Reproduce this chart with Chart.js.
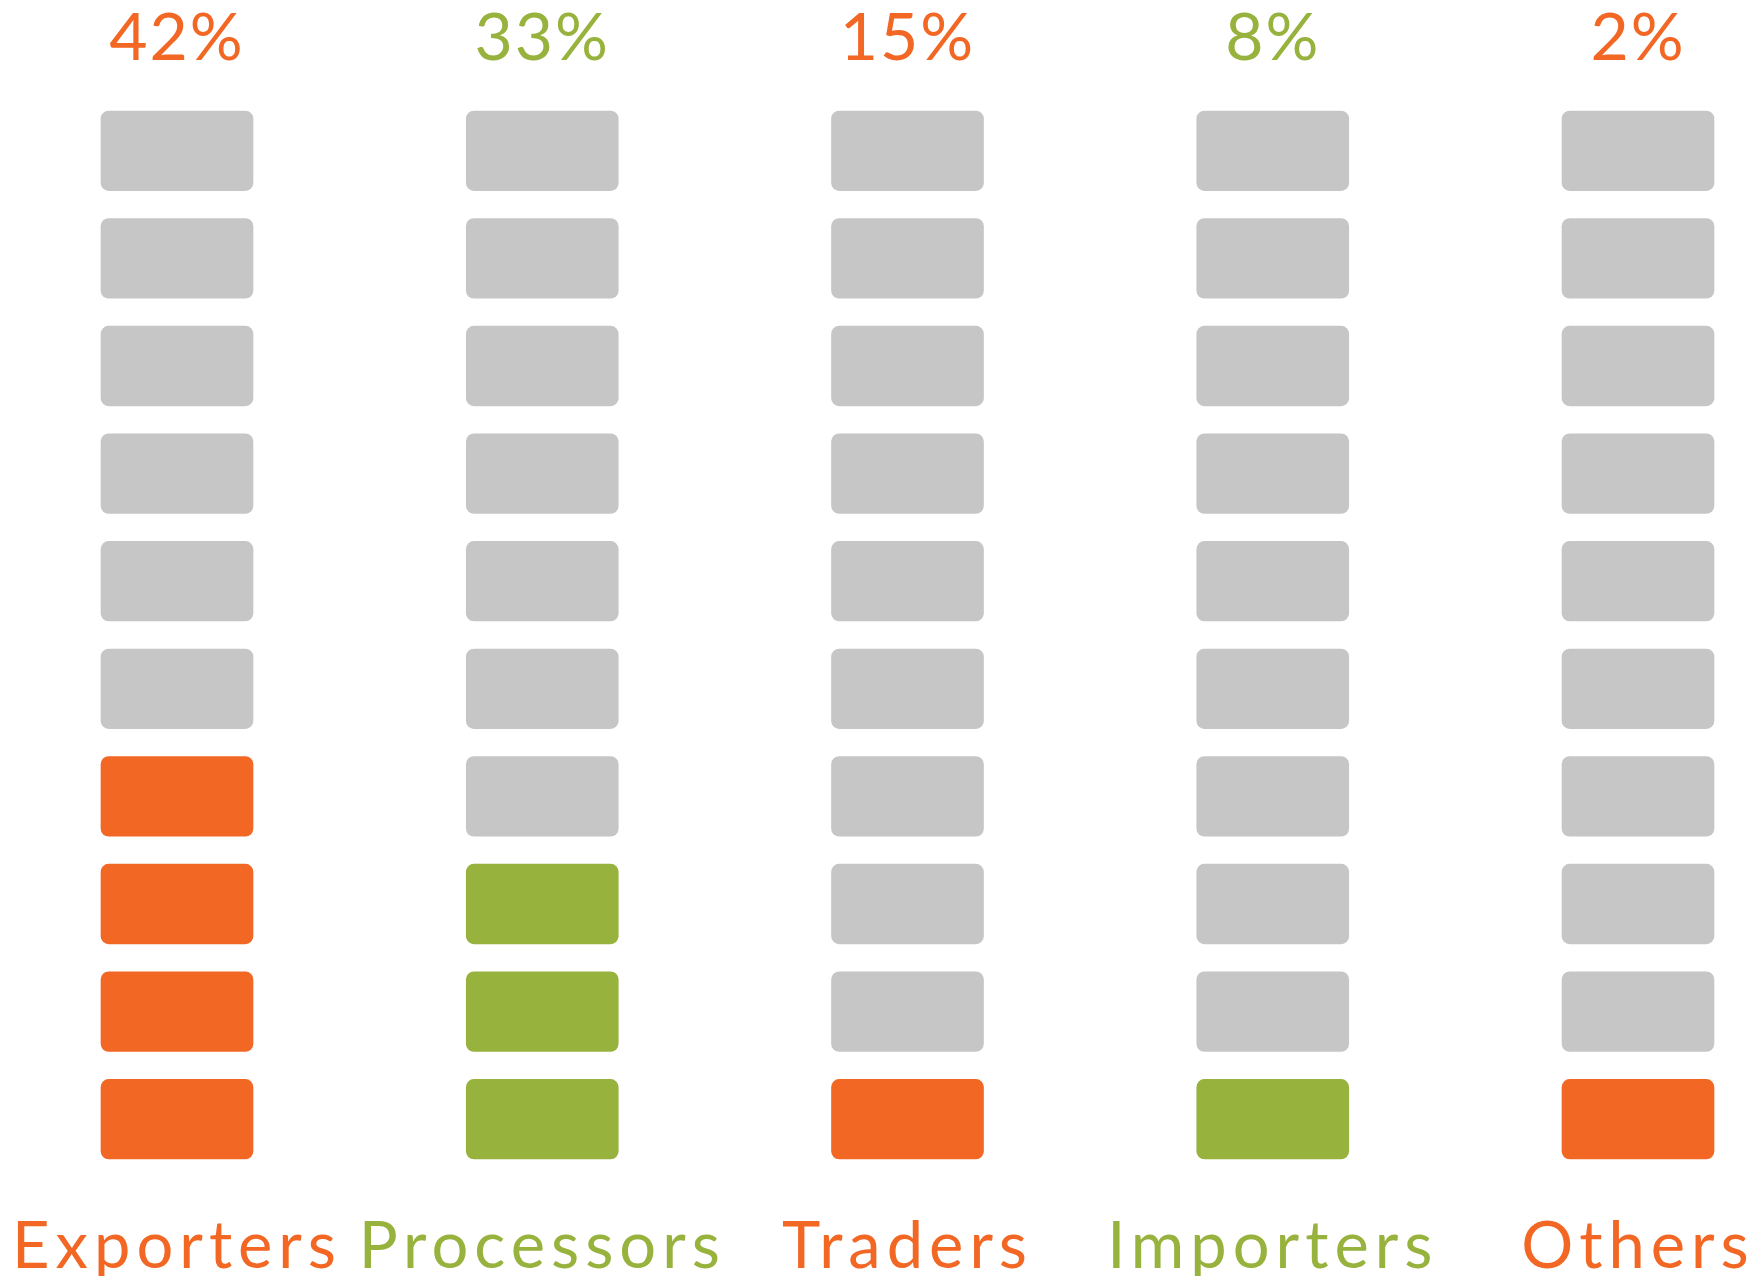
<!DOCTYPE html>
<html><head><meta charset="utf-8">
<script src="https://cdn.jsdelivr.net/npm/chart.js@4/dist/chart.umd.min.js"></script>
<style>html,body{margin:0;padding:0;background:#fff}#wrap{width:1758px;height:1276px;position:relative}</style>
</head><body><div id="wrap"><canvas id="c" width="1758" height="1276"></canvas></div>
<script>
const categories = ['Exporters', 'Processors', 'Traders', 'Importers', 'Others'];
const percentLabels = ['42%', '33%', '15%', '8%', '2%'];
const filledBlocks = [4, 3, 1, 1, 1];
const categoryColors = ['#F26724', '#97B23D', '#F26724', '#97B23D', '#F26724'];
const totalBlocks = 10;
const emptyColor = '#C6C6C6';

const datasets = [];
for (let r = 0; r < totalBlocks; r++) {
  datasets.push({
    data: categories.map(() => [r + 0.13, r + 0.87]),
    backgroundColor: categories.map((c, i) => r < filledBlocks[i] ? categoryColors[i] : emptyColor),
    barThickness: 152,
    borderRadius: 8,
    borderSkipped: false,
    grouped: false,
    clip: false
  });
}

function withSpacing(scale, spacing) {
  if (scale._spaced) return;
  scale._spaced = true;
  const orig = scale.drawLabels;
  scale.drawLabels = function (ca) {
    const ctx = this.ctx;
    ctx.save();
    ctx.letterSpacing = spacing;
    orig.call(this, ca);
    ctx.restore();
  };
}

const spacingPlugin = {
  id: 'spacing',
  afterLayout(chart) {
    withSpacing(chart.scales.x, '6px');
    withSpacing(chart.scales.xTop, '2px');
  }
};

function fixHeight(h) {
  return scale => { scale.height = h; scale.paddingLeft = 0; scale.paddingRight = 0; };
}

new Chart(document.getElementById('c'), {
  type: 'bar',
  data: { labels: categories, datasets },
  plugins: [spacingPlugin],
  options: {
    responsive: false,
    animation: false,
    layout: { padding: { left: 177, right: 120, top: 0, bottom: 0 } },
    plugins: { legend: { display: false }, tooltip: { enabled: false } },
    scales: {
      x: {
        type: 'category', offset: false,
        grid: { display: false, drawTicks: false }, border: { display: false },
        afterFit: fixHeight(103),
        ticks: {
          color: ctx => categoryColors[ctx.index],
          font: { family: 'Lato', size: 65, weight: '400', lineHeight: 1 },
          padding: 42, maxRotation: 0, autoSkip: false
        }
      },
      xTop: {
        type: 'category', position: 'top', labels: categories, offset: false,
        grid: { display: false, drawTicks: false }, border: { display: false },
        afterFit: fixHeight(97),
        ticks: {
          callback: (v, i) => percentLabels[i],
          color: ctx => categoryColors[ctx.index],
          font: { family: 'Lato', size: 66, weight: '400', lineHeight: 1 },
          padding: 25, maxRotation: 0, autoSkip: false
        }
      },
      y: { display: false, min: 0, max: totalBlocks }
    }
  }
});
</script></body></html>
